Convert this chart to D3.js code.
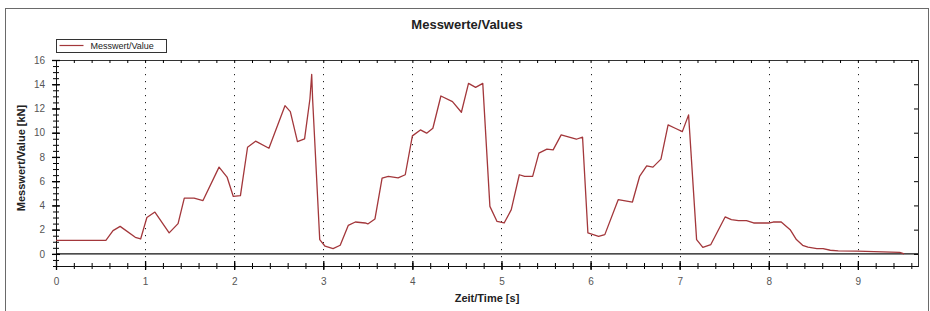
<!DOCTYPE html>
<html>
<head>
<meta charset="utf-8">
<script src="https://cdn.jsdelivr.net/npm/d3@7/dist/d3.min.js"></script>
<style>
    body { margin: 0; background: #fff; }
    text { font-family: Arial, "Liberation Sans", sans-serif; }
</style>
</head>
<body>
<div id="chart"></div>
<script>
// values
const timeValues = [
    0.00, 0.56, 0.64, 0.72, 0.89, 0.95, 1.02, 1.11, 1.27, 1.37, 1.44, 1.55, 1.65, 1.83, 1.92, 1.99,
    2.07, 2.15, 2.24, 2.39, 2.57, 2.63, 2.71, 2.79, 2.85, 2.87, 2.88, 2.96, 3.02, 3.11, 3.19, 3.28,
    3.36, 3.47, 3.50, 3.58, 3.66, 3.73, 3.84, 3.92, 4.00, 4.09, 4.16, 4.23, 4.32, 4.45, 4.55, 4.63,
    4.71, 4.79, 4.87, 4.95, 5.03, 5.11, 5.20, 5.26, 5.35, 5.42, 5.51, 5.58, 5.67, 5.84, 5.91, 5.97,
    6.09, 6.16, 6.31, 6.47, 6.55, 6.63, 6.70, 6.79, 6.87, 6.95, 7.03, 7.10, 7.19, 7.26, 7.35, 7.51,
    7.58, 7.66, 7.75, 7.83, 8.01, 8.05, 8.14, 8.24, 8.31, 8.38, 8.44, 8.54, 8.61, 8.69, 8.78, 8.99,
    9.47, 9.52
];
const forceValues = [
    1.12, 1.12, 1.92, 2.27, 1.37, 1.23, 3.00, 3.45, 1.73, 2.50, 4.60, 4.60, 4.40, 7.16, 6.34, 4.74,
    4.80, 8.80, 9.30, 8.72, 12.23, 11.74, 9.27, 9.49, 12.78, 14.81, 12.80, 1.18, 0.63, 0.44, 0.71, 2.35,
    2.63, 2.55, 2.47, 2.88, 6.25, 6.39, 6.28, 6.53, 9.74, 10.23, 9.96, 10.37, 13.03, 12.56, 11.69, 14.07,
    13.74, 14.07, 3.92, 2.68, 2.55, 3.65, 6.53, 6.39, 6.39, 8.31, 8.64, 8.58, 9.82, 9.46, 9.63, 1.73,
    1.45, 1.59, 4.47, 4.28, 6.39, 7.27, 7.16, 7.82, 10.64, 10.37, 10.09, 11.47, 1.18, 0.54, 0.77, 3.05,
    2.82, 2.74, 2.74, 2.55, 2.55, 2.63, 2.63, 2.00, 1.18, 0.71, 0.55, 0.44, 0.44, 0.30, 0.25, 0.22,
    0.13, 0.00
];
const xTickLabels = [0, 1, 2, 3, 4, 5, 6, 7, 8, 9];
const yTickLabels = [0, 2, 4, 6, 8, 10, 12, 14, 16];
const xDomain = [0, 9.675];
const yDomain = [-1, 16];

const chartTitle = "Messwerte/Values";
const seriesName = "Messwert/Value";
const xLabel = "Zeit/Time [s]";
const yLabel = "Messwert/Value [kN]";

class LineVis {
    constructor(_parentElement) {
        this.parentElement = _parentElement;
        this.data = timeValues.map((t, i) => ({t: t, v: forceValues[i]}));
        this.initVis();
    }

    initVis() {
        let vis = this;

        vis.margin = {top: 60, right: 12, bottom: 45, left: 56};
        vis.width = 930 - vis.margin.left - vis.margin.right;   // 862
        vis.height = 311 - vis.margin.top - vis.margin.bottom;  // 206

        vis.root = d3.select("#" + vis.parentElement).append("svg")
            .attr("width", 930)
            .attr("height", 311);

        // outer frame
        vis.root.append("rect")
            .attr("x", 5.5).attr("y", 8.5)
            .attr("width", 923).attr("height", 320)
            .style("fill", "none")
            .style("stroke", "#6a6a6a");

        vis.root.append("text")
            .attr("x", 467).attr("y", 29)
            .attr("text-anchor", "middle")
            .style("font-size", "13px")
            .style("font-weight", "bold")
            .style("fill", "#222")
            .text(chartTitle);

        vis.svg = vis.root.append("g")
            .attr("transform", "translate(" + vis.margin.left + "," + vis.margin.top + ")");

        vis.x = d3.scaleLinear().domain(xDomain).range([0, vis.width]);
        vis.y = d3.scaleLinear().domain(yDomain).range([vis.height, 0]);

        vis.updateVis();
    }

    updateVis() {
        let vis = this;

        let minorX = d3.range(0, xDomain[1], 0.2);
        let minorY = d3.range(yDomain[0], yDomain[1] + 0.01, 0.5);

        // dotted vertical grid at whole seconds
        vis.svg.selectAll(".grid")
            .data(xTickLabels.filter(d => d > 0))
            .enter().append("line")
            .attr("class", "grid")
            .attr("x1", d => Math.round(vis.x(d)) + 0.5)
            .attr("x2", d => Math.round(vis.x(d)) + 0.5)
            .attr("y1", 0)
            .attr("y2", vis.height)
            .style("stroke", "#222")
            .style("stroke-width", 1)
            .style("stroke-dasharray", "1.2,5.8");

        // zero line
        vis.svg.append("line")
            .attr("x1", 0).attr("x2", vis.width)
            .attr("y1", vis.y(0)).attr("y2", vis.y(0))
            .style("stroke", "#111")
            .style("stroke-width", 1.4);

        // plot frame (top and right)
        vis.svg.append("rect")
            .attr("x", 0.5).attr("y", 0.5)
            .attr("width", vis.width).attr("height", vis.height)
            .style("fill", "none")
            .style("stroke", "#333");

        // top minor ticks pointing down
        vis.svg.append("g")
            .call(d3.axisTop(vis.x).tickValues(minorX).tickSize(-3).tickFormat(""))
            .call(g => g.select(".domain").remove());

        // right ticks pointing inward
        vis.svg.append("g")
            .attr("transform", "translate(" + vis.width + ",0)")
            .call(d3.axisRight(vis.y).tickValues(yTickLabels).tickSize(-4).tickFormat(""))
            .call(g => g.select(".domain").remove());

        // bottom minor ticks
        vis.svg.append("g")
            .attr("transform", "translate(0," + vis.height + ")")
            .call(d3.axisBottom(vis.x).tickValues(minorX).tickSize(3).tickFormat(""))
            .call(g => g.selectAll(".tick line").attr("y1", -3))
            .call(g => g.select(".domain").remove());

        // bottom major ticks and labels
        vis.svg.append("g")
            .attr("transform", "translate(0," + vis.height + ")")
            .call(d3.axisBottom(vis.x).tickValues(xTickLabels).tickSize(4).tickSizeOuter(0).tickPadding(8))
            .call(g => g.selectAll(".tick line").attr("y1", -5).style("stroke-width", 1.3))
            .call(g => g.select(".domain").style("stroke", "#111"))
            .call(g => g.selectAll("text").style("font-size", "10px").style("fill", "#555")
                .style("font-family", "Arial, 'Liberation Sans', sans-serif"));

        // left minor ticks
        vis.svg.append("g")
            .call(d3.axisLeft(vis.y).tickValues(minorY).tickSize(3).tickFormat(""))
            .call(g => g.selectAll(".tick line").attr("x1", 3))
            .call(g => g.select(".domain").remove());

        // left major ticks and labels
        vis.svg.append("g")
            .call(d3.axisLeft(vis.y).tickValues(yTickLabels).tickSize(4).tickSizeOuter(0).tickPadding(7))
            .call(g => g.selectAll(".tick line").attr("x1", 4).style("stroke-width", 1.3))
            .call(g => g.select(".domain").style("stroke", "#111"))
            .call(g => g.selectAll("text").style("font-size", "10px").style("fill", "#555")
                .style("font-family", "Arial, 'Liberation Sans', sans-serif"));

        // measurement line
        let line = d3.line()
            .x(d => vis.x(d.t))
            .y(d => vis.y(d.v));

        vis.svg.append("path")
            .datum(vis.data)
            .attr("d", line)
            .style("fill", "none")
            .style("stroke", "#a3373b")
            .style("stroke-width", 1.3)
            .style("stroke-linejoin", "round");

        // axis titles
        vis.svg.append("text")
            .attr("x", vis.width / 2)
            .attr("y", vis.height + 36)
            .attr("text-anchor", "middle")
            .style("font-size", "11px")
            .style("font-weight", "bold")
            .style("fill", "#222")
            .text(xLabel);

        vis.svg.append("text")
            .attr("transform", "translate(-31," + (vis.height / 2 - 5) + ") rotate(-90)")
            .attr("text-anchor", "middle")
            .style("font-size", "11px")
            .style("font-weight", "bold")
            .style("fill", "#222")
            .text(yLabel);

        // legend
        let legend = vis.root.append("g").attr("transform", "translate(56.5,39.5)");
        legend.append("rect")
            .attr("width", 110).attr("height", 13)
            .style("fill", "#fff")
            .style("stroke", "#333");
        legend.append("line")
            .attr("x1", 3).attr("x2", 27)
            .attr("y1", 6).attr("y2", 6)
            .style("stroke", "#a3373b")
            .style("stroke-width", 1.2);
        legend.append("text")
            .attr("x", 34).attr("y", 9.5)
            .style("font-size", "9px")
            .style("fill", "#222")
            .text(seriesName);
    }
}

new LineVis("chart");
</script>
</body>
</html>
